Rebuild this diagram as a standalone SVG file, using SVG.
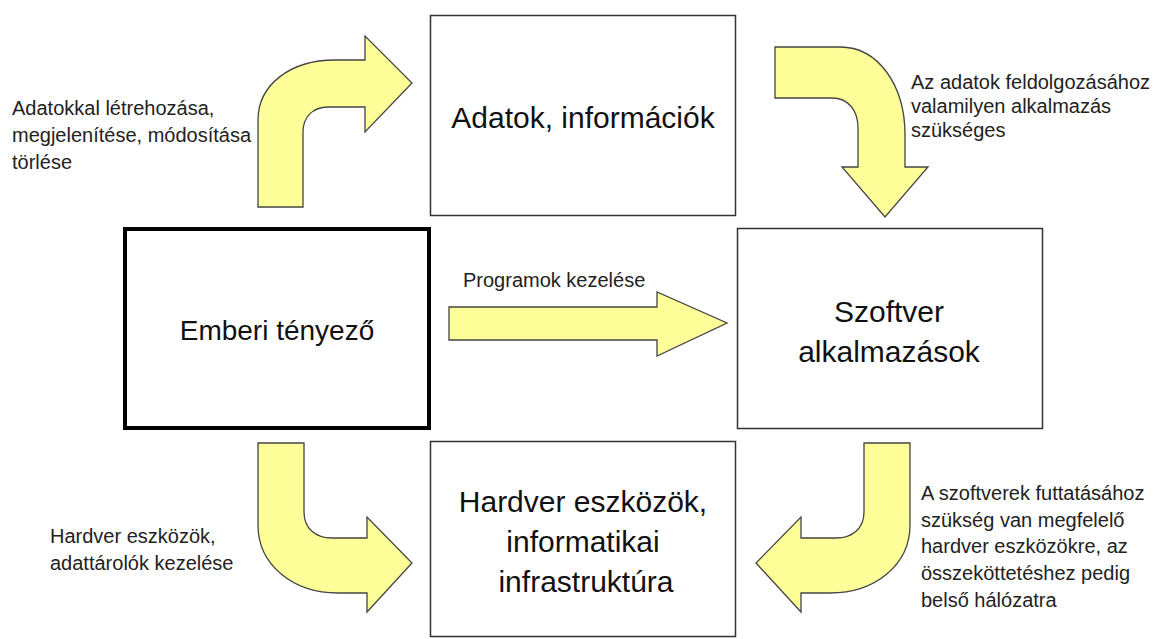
<svg xmlns="http://www.w3.org/2000/svg" width="1156" height="639" viewBox="0 0 1156 639">
<style>
.box{fill:#fff;stroke:#333;stroke-width:1.5}
.thick{fill:#fff;stroke:#000;stroke-width:4}
.arrow{fill:#FFFF99;stroke:#444;stroke-width:1.3;stroke-linejoin:miter}
.lbl{font-family:"Liberation Sans",Arial,sans-serif;font-size:30px;fill:#111;text-anchor:middle}
.note{font-family:"Liberation Sans",Arial,sans-serif;font-size:20px;fill:#222}
</style>
<rect width="1156" height="639" fill="#fff"/>
<g id="connectors">
<path class="arrow" d="M258,207 L258,120 C258,85 290,60 335,60 L365,60 L365,36 L412,83 L365,132 L365,107 L328,107 C313,107 303,117 303,132 L303,207 Z"/>
<path class="arrow" d="M775,47 L840,47 C878,47 905,85 905,135 L905,167 L928,167 L885,217 L842,167 L858,167 L858,128 C858,110 848,98 832,98 L775,98 Z"/>
<path class="arrow" d="M449,307 L657,307 L657,292 L727,323 L657,356 L657,340 L449,340 Z"/>
<path class="arrow" d="M258,443 L304,443 L304,512 C304,528 315,538 332,538 L367,538 L367,517 L412,563 L367,612 L367,593 L338,593 C293,593 258,565 258,525 Z"/>
<path class="arrow" d="M910,443 L864,443 L864,512 C864,528 853,538 836,538 L801,538 L801,517 L756,563 L801,612 L801,593 L830,593 C875,593 910,565 910,525 Z"/>
<text class="note" x="12" y="115">Adatokkal létrehozása,</text>
<text class="note" x="12" y="142">megjelenítése, módosítása</text>
<text class="note" x="12" y="169">törlése</text>
<text class="note" x="911" y="89">Az adatok feldolgozásához</text>
<text class="note" x="911" y="113">valamilyen alkalmazás</text>
<text class="note" x="911" y="137">szükséges</text>
<text class="note" x="463" y="287">Programok kezelése</text>
<text class="note" x="50" y="543">Hardver eszközök,</text>
<text class="note" x="50" y="570">adattárolók kezelése</text>
<text class="note" x="921" y="500">A szoftverek futtatásához</text>
<text class="note" x="921" y="527">szükség van megfelelő</text>
<text class="note" x="921" y="553">hardver eszközökre, az</text>
<text class="note" x="921" y="580">összeköttetéshez pedig</text>
<text class="note" x="921" y="607">belső hálózatra</text>
</g>
<g id="node-adatok">
<rect class="box" x="430.5" y="15.5" width="305" height="200"/>
<text class="lbl" x="583" y="128">Adatok, információk</text>
</g>
<g id="node-emberi">
<rect class="thick" x="125" y="229" width="304" height="199"/>
<text class="lbl" x="277" y="340" style="font-size:28px">Emberi tényező</text>
</g>
<g id="node-szoftver">
<rect class="box" x="737.5" y="228.5" width="305" height="200"/>
<text class="lbl" x="889" y="322">Szoftver</text>
<text class="lbl" x="889" y="362">alkalmazások</text>
</g>
<g id="node-hardver">
<rect class="box" x="430.5" y="441.5" width="305" height="195"/>
<text class="lbl" x="583" y="512">Hardver eszközök,</text>
<text class="lbl" x="583" y="552">informatikai</text>
<text class="lbl" x="586" y="592">infrastruktúra</text>
</g>
</svg>
